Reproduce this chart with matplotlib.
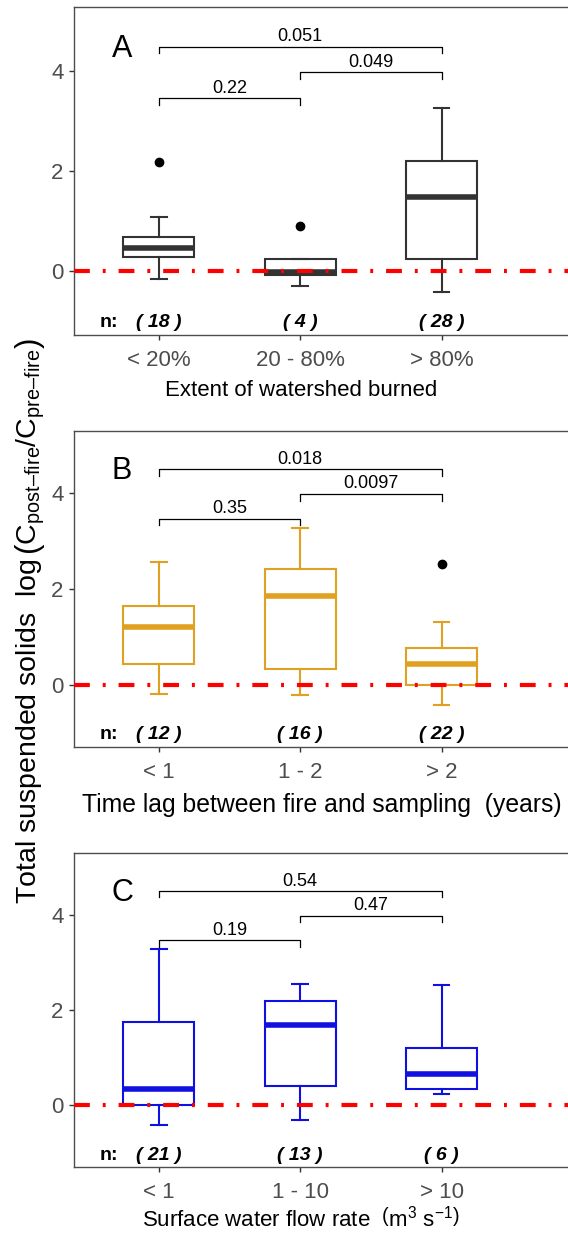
import matplotlib
matplotlib.use('Agg')
import matplotlib.pyplot as plt

plt.rcParams['font.family'] = ['Liberation Sans', 'DejaVu Sans']
plt.rcParams['mathtext.fontset'] = 'custom'
plt.rcParams['mathtext.rm'] = 'Liberation Sans'
plt.rcParams['mathtext.it'] = 'Liberation Sans:italic'

#categories and n for each panel
cats_A = ['< 20%', '20 - 80%', '> 80%']
cats_B = ['< 1', '1 - 2', '> 2']
cats_C = ['< 1', '1 - 10', '> 10']
n_A = [18, 4, 28]
n_B = [12, 16, 22]
n_C = [21, 13, 6]

#box stats: lower whisker, q1, median, q3, upper whisker
lo_A = [-0.175, -0.31, -0.42]
q1_A = [0.28, -0.09, 0.235]
med_A = [0.455, -0.02, 1.48]
q3_A = [0.68, 0.235, 2.20]
hi_A = [1.085, 0.235, 3.26]
out_A = [[2.19], [0.90], []]

lo_B = [-0.18, -0.20, -0.415]
q1_B = [0.44, 0.34, 0.0]
med_B = [1.20, 1.85, 0.44]
q3_B = [1.65, 2.41, 0.775]
hi_B = [2.56, 3.27, 1.31]
out_B = [[], [], [2.53]]

lo_C = [-0.41, -0.31, 0.25]
q1_C = [0.0, 0.40, 0.34]
med_C = [0.335, 1.68, 0.66]
q3_C = [1.74, 2.19, 1.21]
hi_C = [3.27, 2.55, 2.52]
out_C = [[], [], []]

#p-values of the pairwise comparisons (1-2, 2-3, 1-3)
p_A = ['0.22', '0.049', '0.051']
p_B = ['0.35', '0.0097', '0.018']
p_C = ['0.19', '0.47', '0.54']

#letter, cats, n, stats, p, colour, xlabel, xlabel size, xlabel x (axes frac), xlabel drop (px)
panels = [
    ('A', cats_A, n_A, lo_A, q1_A, med_A, q3_A, hi_A, out_A, p_A, '#333333',
     'Extent of watershed burned', 16, 0.456, 45),
    ('B', cats_B, n_B, lo_B, q1_B, med_B, q3_B, hi_B, out_B, p_B, '#DFA11F',
     'Time lag between fire and sampling  (years)', 17.8, 0.498, 46),
    ('C', cats_C, n_C, lo_C, q1_C, med_C, q3_C, hi_C, out_C, p_C, '#1010E0',
     r'Surface water flow rate  $\left(\mathrm{m^3\ s^{-1}}\right)$', 16, 0.456, 39),
]

#axes boxes in pixels (top, bottom)
W, H = 568, 1244
ax_px = [(7, 335), (431, 747), (853, 1167)]
left_px, right_px = 74, 571

fig = plt.figure(figsize=(W / 100, H / 100), dpi=100)

brackets = [(1, 2, 3.46, 3.33), (2, 3, 3.98, 3.84), (1, 3, 4.49, 4.36)]

for (letter, cats, n, lo, q1, med, q3, hi, out, pv, col, xlab, xsize, xlab_pos, xdrop), (t, b) in zip(panels, ax_px):
    ax = fig.add_axes([left_px / W, 1 - b / H, (right_px - left_px) / W, (b - t) / H])
    stats = []
    for i in range(3):
        stats.append({'whislo': lo[i], 'q1': q1[i], 'med': med[i], 'q3': q3[i],
                      'whishi': hi[i], 'fliers': out[i]})
    ax.bxp(stats, positions=[1, 2, 3], widths=0.5, capwidths=0.11,
           patch_artist=True,
           boxprops=dict(facecolor='white', edgecolor=col, linewidth=1.5),
           medianprops=dict(color=col, linewidth=4, solid_capstyle='butt'),
           whiskerprops=dict(color=col, linewidth=1.5),
           capprops=dict(color=col, linewidth=1.5),
           flierprops=dict(marker='o', markerfacecolor='black', markeredgecolor='black',
                           markersize=6))

    #zero line
    ax.axhline(0, color='red', linewidth=3, dashes=(3.8, 3.1, 0.7, 3.1), zorder=5)

    #brackets with p-values
    for (x1, x2, yb, yt), p in zip(brackets, pv):
        ax.plot([x1, x1, x2, x2], [yt, yb, yb, yt], color='black', linewidth=0.9)
        ax.text((x1 + x2) / 2, yb + 0.03, p, ha='center', va='bottom', fontsize=13)

    #panel letter
    ax.text(0.74, 4.45, letter, ha='center', va='center', fontsize=22)

    #sample sizes
    ax.text(0.648, -1.04, 'n:', ha='center', va='center', fontsize=14, fontweight='bold')
    for i in range(3):
        ax.text(i + 1, -1.04, '( %d )' % n[i], ha='center', va='center', fontsize=14,
                fontweight='bold', fontstyle='italic')

    ax.set_xlim(0.4, 3.0 + (right_px - 441.7) / 141.3)
    ax.set_ylim(-1.29, 5.29)
    ax.set_xticks([1, 2, 3])
    ax.set_xticklabels(cats)
    ax.set_yticks([0, 2, 4])
    ax.tick_params(axis='both', labelsize=16, labelcolor='#4D4D4D', color='#333333',
                   length=3.5, width=1, pad=4)
    ax.tick_params(axis='x', pad=7.5)
    for s in ax.spines.values():
        s.set_color('#4D4D4D')
        s.set_linewidth(1)
    ax.spines['right'].set_visible(False)
    ax.set_xlabel(xlab, fontsize=xsize)
    ax.xaxis.set_label_coords(xlab_pos, -xdrop / (b - t))
    ax.xaxis.label.set_va('top')

dash = '\u2013'
ylab = (r'Total suspended solids  log$\,\left(\mathrm{C_{post' + dash + r'fire}/C_{pre'
        + dash + r'fire}}\right)$')
fig.text(30 / W, 1 - 621 / H, ylab, rotation=90, ha='center', va='center', fontsize=20.5)

fig.savefig('out.png', dpi=100)
